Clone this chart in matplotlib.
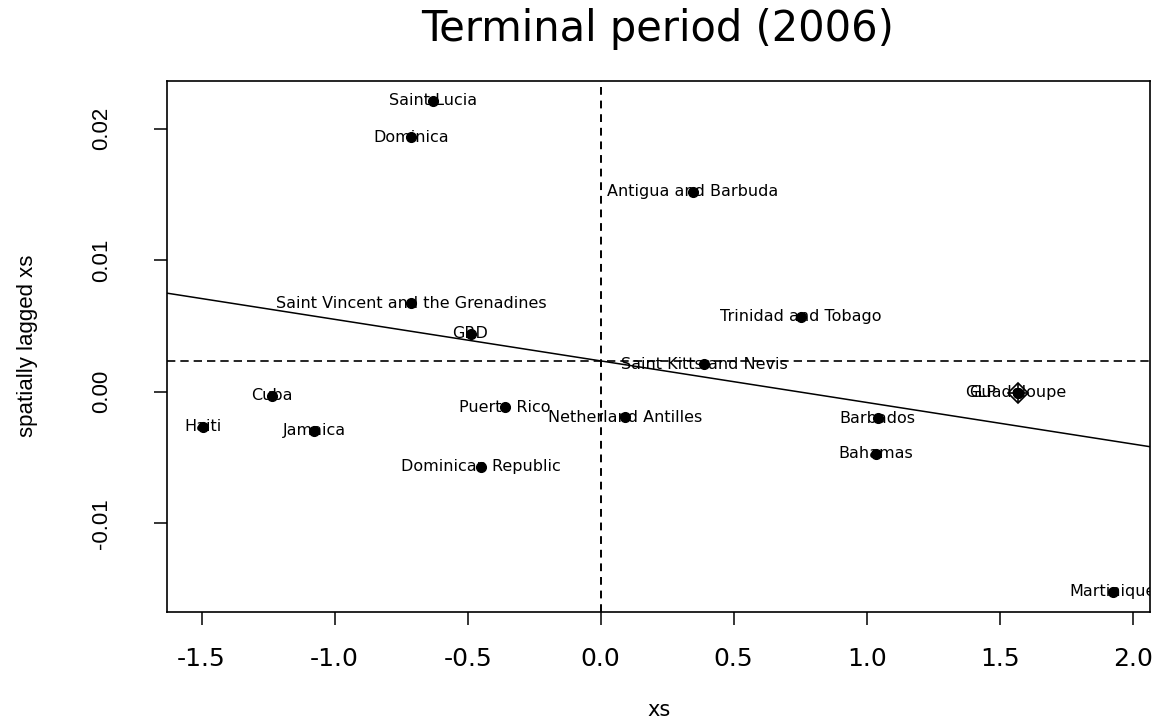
import numpy as np
import matplotlib
matplotlib.use("Agg")
from matplotlib import pyplot as plt
from matplotlib.transforms import offset_copy

# Moran-type scatter: standardised xs against its spatial lag (2006)
countries = ["Saint Lucia", "Dominica", "Antigua and Barbuda",
             "Saint Vincent and the Grenadines", "Trinidad and Tobago", "GRD",
             "Saint Kitts and Nevis", "Cuba", "Haiti", "Jamaica", "Puerto Rico",
             "Netherland Antilles", "Dominican Republic", "Barbados", "Bahamas",
             "Guadeloupe", "GLP", "Martinique"]
xs = [-0.631, -0.711, 0.347, -0.711, 0.753, -0.489, 0.389, -1.237, -1.494,
      -1.077, -0.360, 0.093, -0.451, 1.042, 1.035, 1.569, 1.569, 1.924]
lag_xs = [0.02213, 0.01935, 0.01521, 0.00672, 0.00570, 0.00439, 0.00208,
          -0.00030, -0.00266, -0.00297, -0.00119, -0.00195, -0.00570,
          -0.00202, -0.00474, -0.00008, -0.00008, -0.01521]
influential = ["Guadeloupe"]

mean_x, mean_lag = 0.0, 0.00233
slope, intercept = -0.00316, 0.00234

x_ticks = [-1.5, -1.0, -0.5, 0.0, 0.5, 1.0, 1.5, 2.0]
y_ticks = [-0.01, 0.00, 0.01, 0.02]

# one label sits off its point in the original (pixels)
label_shift = {"GLP": (-38, 0)}

fig = plt.figure(figsize=(11.6, 7.22), dpi=100)
ax = fig.add_axes([0.1442, 0.1528, 0.8472, 0.7355])

ax.plot(xs, lag_xs, 'o', color='black', ms=7, zorder=3)
for nm in influential:
    i = countries.index(nm)
    ax.plot(xs[i], lag_xs[i], 'D', mfc='none', mec='black', ms=10, mew=1.2, zorder=4)
    ax.plot(xs[i], lag_xs[i], '+', color='black', ms=14, mew=1.2, zorder=4)

for nm, x, y in zip(countries, xs, lag_xs):
    dx, dy = label_shift.get(nm, (0, 0))
    tr = offset_copy(ax.transData, fig=fig, x=dx, y=dy, units='dots')
    ax.text(x, y, nm, transform=tr, ha='center', va='center', fontsize=11.5,
            family='DejaVu Sans', clip_on=True, zorder=5)

ax.axvline(mean_x, color='black', lw=1.4, ls=(0, (4, 3)))
ax.axhline(mean_lag, color='black', lw=1.2, ls=(0, (5, 3)))
ax.axline((0, intercept), slope=slope, color='black', lw=1.1)

ax.set_xlim(-1.629, 2.065)
ax.set_ylim(-0.01673, 0.02365)
ax.set_xticks(x_ticks)
ax.set_xticklabels(["%.1f" % v for v in x_ticks], family='DejaVu Sans', fontsize=18)
ax.set_yticks(y_ticks)
ax.set_yticklabels(["%.2f" % v for v in y_ticks], family='Liberation Sans',
                   fontsize=16, rotation=90, va='center')
ax.tick_params(axis='x', length=9.5, width=1.1, pad=16)
ax.tick_params(axis='y', length=9.5, width=1.1, pad=30)
for s in ax.spines.values():
    s.set_linewidth(1.2)

ax.set_xlabel("xs", family='DejaVu Sans', fontsize=15)
ax.xaxis.set_label_coords(0.5, -0.185)
ax.xaxis.label.set_va('center')
ax.set_ylabel("spatially lagged xs", family='Liberation Sans', fontsize=16)
ax.yaxis.set_label_coords(-0.1418, 0.5)
ax.yaxis.label.set_va('center')

fig.text(658 / 1160, 1 - 41 / 722, "Terminal period (2006)", ha='center',
         va='baseline', fontsize=30, family='DejaVu Sans')

fig.savefig("out.png", dpi=100)
